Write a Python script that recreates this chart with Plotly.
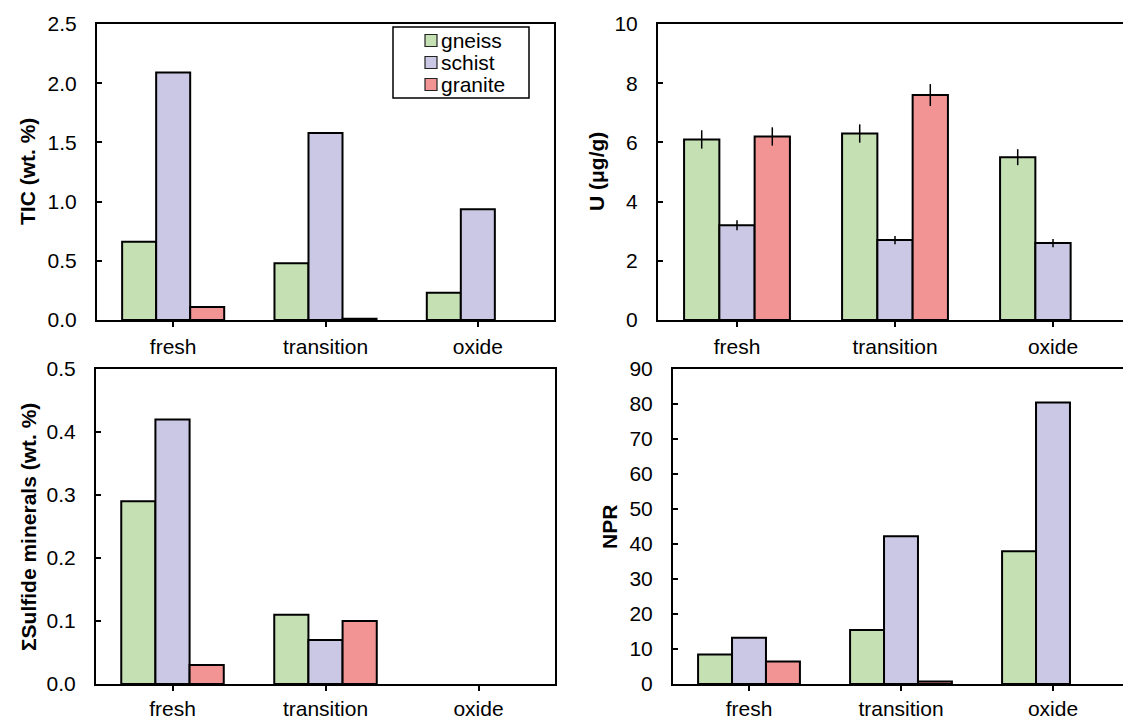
import plotly.graph_objects as go

# ---------------- data ----------------
categories = ["fresh", "transition", "oxide"]
rock_types = ["gneiss", "schist", "granite"]

tic_gneiss = [0.66, 0.48, 0.23]
tic_schist = [2.09, 1.58, 0.935]
tic_granite = [0.11, 0.01, None]

u_gneiss = [6.1, 6.3, 5.5]
u_schist = [3.2, 2.7, 2.6]
u_granite = [6.2, 7.6, None]
u_gneiss_err = [0.31, 0.31, 0.27]
u_schist_err = [0.17, 0.14, 0.14]
u_granite_err = [0.31, 0.37, 0]

sulf_gneiss = [0.29, 0.11, None]
sulf_schist = [0.42, 0.07, None]
sulf_granite = [0.03, 0.10, None]

npr_gneiss = [8.4, 15.4, 37.9]
npr_schist = [13.2, 42.2, 80.4]
npr_granite = [6.4, 0.7, None]

y_titles = ["TIC (wt. %)", "U (μg/g)", "ΣSulfide minerals (wt. %)", "NPR"]

# ---------------- style ----------------
W, H = 1123, 722
FONT = "Liberation Sans, Arial, sans-serif"
colors = {"gneiss": "#c5e0b3", "schist": "#cac8e4", "granite": "#f39494"}

fig = go.Figure()

panels = [
    ("x", "y", [tic_gneiss, tic_schist, tic_granite], None),
    ("x2", "y2", [u_gneiss, u_schist, u_granite], [u_gneiss_err, u_schist_err, u_granite_err]),
    ("x3", "y3", [sulf_gneiss, sulf_schist, sulf_granite], None),
    ("x4", "y4", [npr_gneiss, npr_schist, npr_granite], None),
]

for xa, ya, series, errs in panels:
    for i, rock in enumerate(rock_types):
        kw = {}
        if errs is not None:
            kw["error_y"] = dict(type="data", array=errs[i], visible=True,
                                 color="black", thickness=1.5, width=0)
        fig.add_trace(go.Bar(
            x=categories, y=series[i], name=rock, xaxis=xa, yaxis=ya,
            marker=dict(color=colors[rock], line=dict(color="black", width=2)),
            showlegend=False, legendgroup=rock, **kw))


def px_x(a):
    return a / W


def px_y(b):
    return 1 - b / H


axis_common = dict(showline=True, linecolor="black", linewidth=2, showgrid=False,
                   zeroline=False, automargin=False,
                   tickfont=dict(family=FONT, size=21, color="black"),
                   tickwidth=1.5, tickcolor="black", ticklen=5)
xtop = dict(mirror=True, ticks="outside", ticklabelstandoff=2, **axis_common)
xbot = dict(mirror=True, ticks="outside", ticklabelstandoff=0, **axis_common)
ycommon = dict(ticks="inside", ticklabelstandoff=14, **axis_common)

top_dom = [px_y(320), px_y(24)]
bot_dom = [px_y(684), px_y(369)]

fig.update_layout(
    template="none",
    width=W, height=H, autosize=False,
    margin=dict(l=0, r=0, t=0, b=0, pad=0),
    paper_bgcolor="white", plot_bgcolor="white",
    bargap=0.33, bargroupgap=0,
    barmode="group",
    showlegend=False,
    font=dict(family=FONT, color="black"),
    xaxis=dict(domain=[px_x(97), px_x(554)], anchor="y", range=[-0.5, 2.5], **xtop),
    yaxis=dict(domain=top_dom, anchor="x", range=[0, 2.5], dtick=0.5, tickformat=".1f",
               mirror=True, **ycommon),
    xaxis2=dict(domain=[px_x(658), 1], anchor="y2", range=[-0.5, -0.5 + (W - 658) / 158.0],
                **xtop),
    yaxis2=dict(domain=top_dom, anchor="x2", range=[0, 10], dtick=2, mirror=False, **ycommon),
    xaxis3=dict(domain=[px_x(96), px_x(555)], anchor="y3", range=[-0.5, 2.5], **xbot),
    yaxis3=dict(domain=bot_dom, anchor="x3", range=[0, 0.5], dtick=0.1, tickformat=".1f",
                mirror=True, **ycommon),
    xaxis4=dict(domain=[px_x(673), 1], anchor="y4", range=[-0.5, -0.5 + (W - 673) / 152.0],
                **xbot),
    yaxis4=dict(domain=bot_dom, anchor="x4", range=[0, 90], dtick=10, mirror=False, **ycommon),
)

# y-axis titles
title_pos = [(28, 172), (597, 172), (28, 527), (609, 527)]
for t, (tx, ty) in zip(y_titles, title_pos):
    fig.add_annotation(text="<b>%s</b>" % t, xref="paper", yref="paper",
                       x=px_x(tx), y=px_y(ty), xanchor="center", yanchor="middle",
                       textangle=-90, showarrow=False,
                       font=dict(family=FONT, size=21, color="black"))

# legend box (top-left panel)
fig.add_shape(type="rect", xref="paper", yref="paper",
              x0=px_x(393), x1=px_x(529), y0=px_y(98), y1=px_y(27),
              line=dict(color="black", width=1.5), fillcolor="white", layer="above")
legend_rows = [40.5, 62.5, 84.5]
for rock, ry in zip(rock_types, legend_rows):
    fig.add_shape(type="rect", xref="paper", yref="paper",
                  x0=px_x(425), x1=px_x(437), y0=px_y(ry + 6), y1=px_y(ry - 6),
                  line=dict(color="#222222", width=1.2), fillcolor=colors[rock], layer="above")
    fig.add_annotation(text=rock, xref="paper", yref="paper",
                       x=px_x(439), y=px_y(ry), xanchor="left", yanchor="middle",
                       showarrow=False, font=dict(family=FONT, size=21, color="black"))

fig.write_html("out.html", config={"displayModeBar": False},
               post_script="document.body.style.margin='0';")
